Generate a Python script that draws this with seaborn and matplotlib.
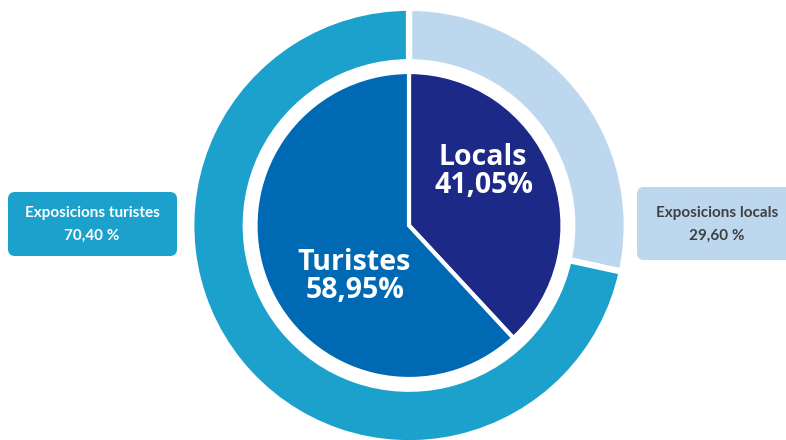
import matplotlib
matplotlib.use("Agg")
import matplotlib.pyplot as plt
import seaborn as sns
from matplotlib.patches import FancyBboxPatch

sns.set_theme(style="white")
plt.rcParams['font.family'] = ['Open Sans', 'DejaVu Sans']

# Data (labels as printed on the chart)
inner_labels = ["Locals", "Turistes"]
inner_label_values = ["41,05%", "58,95%"]
outer_labels = ["Exposicions locals", "Exposicions turistes"]
outer_label_values = ["29,60 %", "70,40 %"]
# slice shares as drawn in the picture (measured from slice boundaries)
inner_values = [38.1, 61.9]
outer_values = [28.4, 71.6]

inner_colors = ["#1c2987", "#0069b4"]
outer_colors = ["#bdd7ee", "#1ba1cb"]

W, H = 786, 440
fig = plt.figure(figsize=(W / 100, H / 100), dpi=100)
ax = fig.add_axes([0, 0, 1, 1])

cx, cy = 409, 225.5
ring_lw = 4.5
pie_lw = 3
ax.pie(outer_values, colors=outer_colors, radius=215.5 + ring_lw / 2, center=(cx, cy),
       startangle=-90, counterclock=True, frame=True,
       wedgeprops=dict(width=50 + ring_lw, edgecolor="white", linewidth=ring_lw))
ax.pie(inner_values, colors=inner_colors, radius=152 + pie_lw / 2, center=(cx, cy),
       startangle=-90, counterclock=True, frame=True,
       wedgeprops=dict(edgecolor="white", linewidth=pie_lw))
ax.set_xlim(0, W)
ax.set_ylim(H, 0)
ax.set_aspect("equal")
ax.axis("off")

big = dict(color="white", fontsize=20.5, fontweight="bold", ha="center", va="center")
ax.text(483, 157, inner_labels[0], **big)
ax.text(484, 185, inner_label_values[0], **big)
ax.text(354, 262, inner_labels[1], **big)
ax.text(355, 290, inner_label_values[1], **big)

# label boxes
box_l = FancyBboxPatch((8, 192), 169, 64, boxstyle="round,pad=0,rounding_size=7",
                       facecolor=outer_colors[1], edgecolor="none")
ax.add_patch(box_l)
box_r = FancyBboxPatch((637, 187), 160, 73, boxstyle="round,pad=0,rounding_size=7",
                       facecolor=outer_colors[0], edgecolor="none")
ax.add_patch(box_r)

small = dict(fontsize=11, fontweight="bold", family=["Lato", "DejaVu Sans"],
             ha="center", va="center")
ax.text(92, 213, outer_labels[1], color="white", **small)
ax.text(92, 236, outer_label_values[1], color="white", **small)
ax.text(717, 213, outer_labels[0], color="#404040", **small)
ax.text(717, 236, outer_label_values[0], color="#404040", **small)

fig.savefig("out.png", dpi=100)
